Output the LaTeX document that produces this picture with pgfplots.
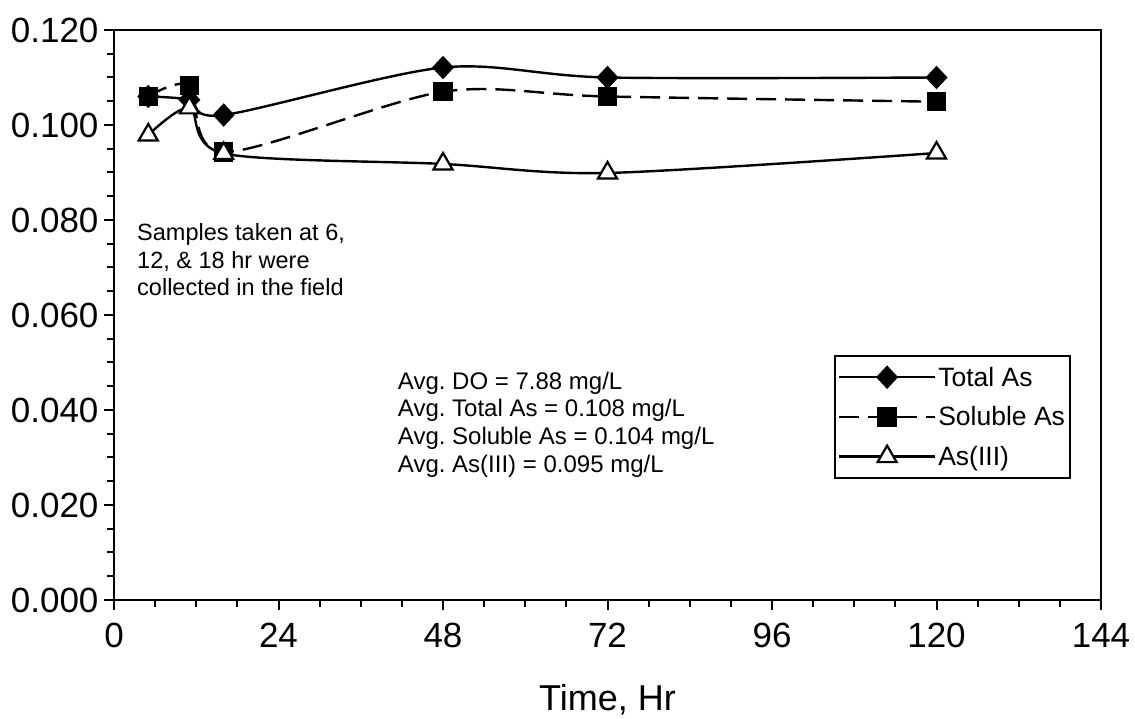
\documentclass[border=0pt]{standalone}
\usepackage{fontspec}
\setmainfont{Liberation Sans}
\usepackage{pgfplots}
\pgfplotsset{compat=1.18}
\frenchspacing
\begin{document}
\begin{tikzpicture}
\begin{axis}[
  name=ax,
  scale only axis, width=987pt, height=570pt,
  xmin=0, xmax=144, ymin=0, ymax=0.12,
  axis line style={line width=2.4pt},
  tick pos=left, tick align=outside,
  major tick length=10pt, minor tick length=7pt,
  every tick/.style={black, line width=2pt},
  xtick={0,24,48,72,96,120,144},
  xticklabels={0,24,48,72,96,120,144},
  ytick={0,0.02,0.04,0.06,0.08,0.1,0.12},
  yticklabels={0.000,0.020,0.040,0.060,0.080,0.100,0.120},
  minor x tick num=3, minor y tick num=3,
  tick label style={font=\fontsize{35}{40}\selectfont},
  xticklabel style={yshift=-10pt},
  yticklabel style={xshift=-2pt},
  xlabel={Time, Hr},
  xlabel style={font=\fontsize{36}{42}\selectfont, at={(axis description cs:0.5,0)}, anchor=center, yshift=-100pt},
  legend style={at={(0.9696,0.2123)}, anchor=south east, draw=black, line width=2pt,
    font=\fontsize{26.5}{32}\selectfont, cells={anchor=west}, row sep=15pt, inner xsep=3pt, inner ysep=9pt,
    nodes={inner xsep=2pt}},
  legend image code/.code={\draw[mark repeat=2,mark phase=2,#1] plot coordinates {(0pt,0pt) (48pt,0pt) (96pt,0pt)};},
]
\addplot[black, line width=2.4pt, smooth, mark=diamond*, mark size=10pt, mark options={solid, xscale=1.25}]
  coordinates {(5,0.106) (11,0.1053) (16,0.1021) (48,0.1121) (72,0.110) (120,0.110)};
\addlegendentry{Total As}
\addplot[black, line width=2.4pt, smooth, dash pattern=on 20pt off 9pt, mark=square*, mark size=8.5pt, mark options={solid}]
  coordinates {(5,0.106) (11,0.1083) (16,0.0943) (48,0.107) (72,0.106) (120,0.1049)};
\addlegendentry{Soluble As}
\addplot[black, line width=2.4pt, smooth, mark=triangle*, mark size=11pt, mark options={solid, fill=white, line width=2.2pt}]
  coordinates {(5,0.0979) (11,0.1036) (16,0.094) (48,0.0918) (72,0.0899) (120,0.0941)};
\addlegendentry{As(III)}
\node[anchor=west, align=left, inner sep=0pt, font=\fontsize{23.5}{27.7}\selectfont] at (axis cs:3.36,0.0716)
  {Samples taken at 6,\\12, \& 18 hr were\\collected in the field};
\node[anchor=west, align=left, inner sep=0pt, font=\fontsize{24}{27.7}\selectfont] at (axis cs:41.4,0.03695)
  {Avg. DO = 7.88 mg/L\\Avg. Total As = 0.108 mg/L\\Avg. Soluble As = 0.104 mg/L\\Avg. As(III) = 0.095 mg/L};
\end{axis}
\pgfresetboundingbox
\path[use as bounding box] (ax.south west) ++(-114pt,-119pt) rectangle ++(1135pt,719pt);
\end{tikzpicture}
\end{document}
